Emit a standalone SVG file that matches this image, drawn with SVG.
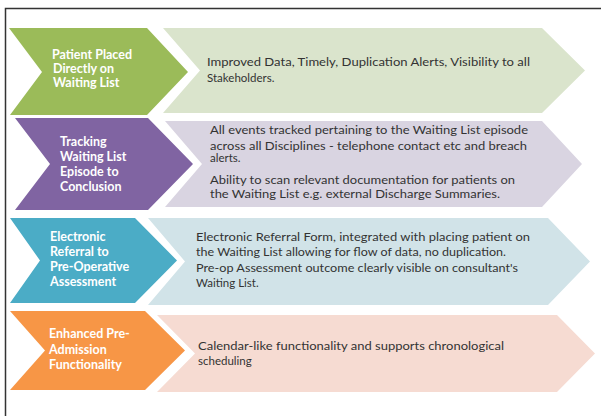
<svg xmlns="http://www.w3.org/2000/svg" width="601" height="416" viewBox="0 0 601 416">
<style>
.lbl{font-family:Lato,"Open Sans","Liberation Sans",sans-serif;font-weight:bold;font-size:12.5px;fill:#ffffff}
.txt{font-family:Lato,"Open Sans","Liberation Sans",sans-serif;font-size:11.5px;fill:#333333}
.frame{stroke:#333333;stroke-width:1.5;fill:none}
</style>
<rect width="601" height="416" fill="#ffffff"/>
<path class="frame" d="M5.5,416 V8.5 H601"/>
<g id="row1-label">
<polygon points="9,28 147,28 188,72 147,115 10,115 42,72" fill="#9BBB59"/>
<text class="lbl" x="52" y="59">Patient Placed</text>
<text class="lbl" x="53" y="73">Directly on</text>
<text class="lbl" x="53" y="87">Waiting List</text>
</g>
<g id="row1-detail">
<polygon points="163,28 542,28 585,70.5 542,113 163,113 200,70.5" fill="#DAE4CC"/>
<text class="txt" x="207" y="66" textLength="323" lengthAdjust="spacingAndGlyphs">Improved Data, Timely, Duplication Alerts, Visibility to all</text>
<text class="txt" x="207" y="82">Stakeholders.</text>
</g>
<g id="row2-label">
<polygon points="15,118 148,118 193,164 148,210 15,210 50,164" fill="#8064A2"/>
<text class="lbl" x="60" y="146">Tracking</text>
<text class="lbl" x="60" y="161">Waiting List</text>
<text class="lbl" x="60" y="176">Episode to</text>
<text class="lbl" x="60" y="191">Conclusion</text>
</g>
<g id="row2-detail">
<polygon points="165,121 542,121 582,164 542,207 165,207 202,164" fill="#D9D4E1"/>
<text class="txt" x="210" y="134" textLength="318" lengthAdjust="spacingAndGlyphs">All events tracked pertaining to the Waiting List episode</text>
<text class="txt" x="210" y="150" textLength="317" lengthAdjust="spacingAndGlyphs">across all Disciplines - telephone contact etc and breach</text>
<text class="txt" x="210" y="162">alerts.</text>
<text class="txt" x="210" y="184" textLength="305" lengthAdjust="spacingAndGlyphs">Ability to scan relevant documentation  for patients on</text>
<text class="txt" x="210" y="198" textLength="290" lengthAdjust="spacingAndGlyphs">the Waiting List e.g. external Discharge Summaries.</text>
</g>
<g id="row3-label">
<polygon points="10,218 135,218 177,260.5 135,303 10,303 40,260.5" fill="#4BACC6"/>
<text class="lbl" x="50" y="241">Electronic</text>
<text class="lbl" x="50" y="256">Referral to</text>
<text class="lbl" x="50" y="271">Pre-Operative</text>
<text class="lbl" x="50" y="286">Assessment</text>
</g>
<g id="row3-detail">
<polygon points="148,218 548,218 590,261.5 548,305 148,305 185,261.5" fill="#D1E3E8"/>
<text class="txt" x="196" y="241" textLength="334" lengthAdjust="spacingAndGlyphs">Electronic Referral Form, integrated with placing patient on</text>
<text class="txt" x="196" y="256" textLength="310" lengthAdjust="spacingAndGlyphs">the Waiting List allowing for flow of data, no duplication.</text>
<text class="txt" x="196" y="272" textLength="322" lengthAdjust="spacingAndGlyphs">Pre-op Assessment outcome  clearly visible on consultant's</text>
<text class="txt" x="196" y="287">Waiting List.</text>
</g>
<g id="row4-label">
<polygon points="10,311 145,311 185,350.5 145,390 10,390 45,350.5" fill="#F79646"/>
<text class="lbl" x="49" y="338">Enhanced Pre-</text>
<text class="lbl" x="49" y="354">Admission</text>
<text class="lbl" x="49" y="369">Functionality</text>
</g>
<g id="row4-detail">
<polygon points="157,315 557,315 595,353.5 557,392 157,392 195,353.5" fill="#F6DBD2"/>
<text class="txt" x="198" y="350" textLength="306" lengthAdjust="spacingAndGlyphs">Calendar-like functionality and supports chronological</text>
<text class="txt" x="198" y="365">scheduling</text>
</g>
</svg>
